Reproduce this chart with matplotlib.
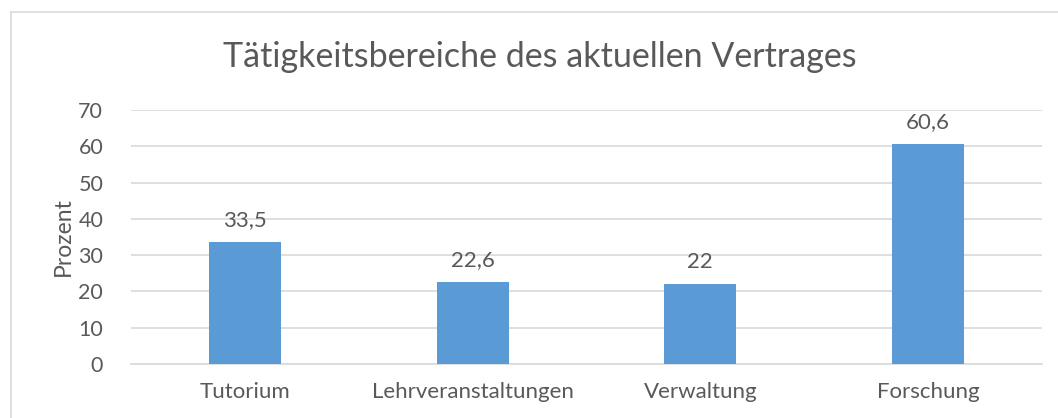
import matplotlib.pyplot as plt
from matplotlib.lines import Line2D

# Daten
kategorien = ["Tutorium", "Lehrveranstaltungen", "Verwaltung", "Forschung"]
prozent = [33.5, 22.6, 22.0, 60.6]
beschriftung = ["33,5", "22,6", "22", "60,6"]

plt.rcParams['font.family'] = ['Lato', 'DejaVu Sans']
grau = "#595959"

fig = plt.figure(figsize=(10.58, 4.18), dpi=100)
ax = fig.add_axes([131/1058, 1 - 364/418, (1042-131)/1058, (364-110)/418])

x = range(len(kategorien))
ax.bar(x, prozent, width=0.316, color="#5B9BD5", zorder=3)
for xi, wert, txt in zip(x, prozent, beschriftung):
	ax.text(xi, wert + 3.3, txt, ha="center", va="bottom", fontsize=16, color=grau)

ax.set_xlim(-0.5, len(kategorien) - 0.5)
ax.set_ylim(0, 70)
ax.set_yticks(range(0, 71, 10))
ax.set_xticks(list(x))
ax.set_xticklabels(kategorien)
ax.tick_params(axis="both", length=0, labelsize=16, labelcolor=grau)
ax.tick_params(axis="y", pad=20, labelsize=15.5)
ax.tick_params(axis="x", pad=13)
ax.grid(axis="y", color="#D9D9D9", linewidth=1.2, zorder=0)
for s in ["top", "right", "left"]:
	ax.spines[s].set_visible(False)
ax.spines["bottom"].set_color("#D9D9D9")
ax.spines["bottom"].set_linewidth(1.2)

ax.set_ylabel("Prozent", fontsize=16.5, color=grau, va="center")
ax.yaxis.set_label_coords(-0.074, 0.5)

fig.text(540/1058, 1 - 57/418, "Tätigkeitsbereiche des aktuellen Vertrages",
	ha="center", va="center", fontsize=24.5, color=grau)

# Rahmen (links und oben)
fig.add_artist(Line2D([11/1058, 11/1058], [0, 1 - 12/418], transform=fig.transFigure, color="#D9D9D9", linewidth=1.2))
fig.add_artist(Line2D([11/1058, 1], [1 - 12/418, 1 - 12/418], transform=fig.transFigure, color="#D9D9D9", linewidth=1.2))

fig.savefig("out.png", dpi=100)
